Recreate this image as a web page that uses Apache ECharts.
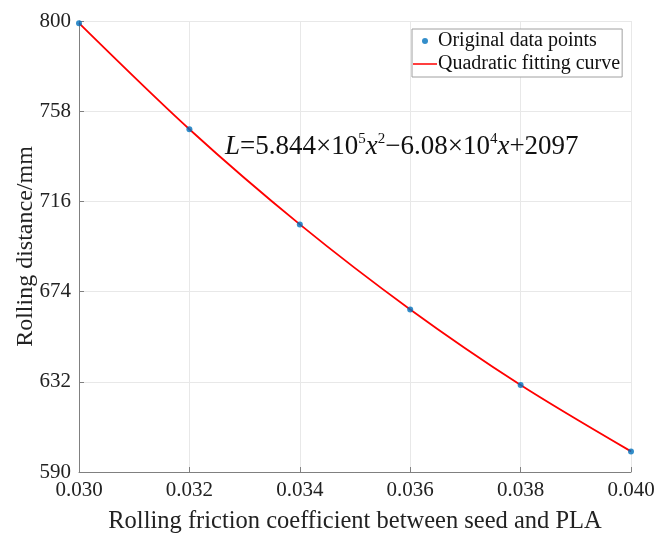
<!DOCTYPE html>
<html><head><meta charset="utf-8">
<script src="https://cdn.jsdelivr.net/npm/echarts@6/dist/echarts.min.js"></script>
<style>html,body{margin:0;padding:0;background:#fff}#c{width:656px;height:534px}</style>
</head><body><div id="c"></div>
<script>
const xValues = [0.030, 0.032, 0.034, 0.036, 0.038, 0.040];
const measured = [799.0, 749.6, 705.3, 665.7, 630.5, 599.6];
const fitted = [799.0, 749.6, 705.3, 665.7, 630.5, 599.6];
const yTicks = [590, 632, 674, 716, 758, 800];

const font = '"Liberation Serif", "Times New Roman", serif';
const lineIcon = 'path://M0,2.2H24V3.8H0Z M0,0h0.01v0.01h-0.01z M24,6h-0.01v-0.01h0.01z';
const chart = echarts.init(document.getElementById('c'));
chart.setOption({
  backgroundColor: '#fff',
  animation: false,
  textStyle: { fontFamily: font },
  grid: { left: 79, right: 25, top: 21, bottom: 62, containLabel: false, outerBoundsMode: 'none' },
  legend: {
    left: 412, top: 29, orient: 'vertical',
    backgroundColor: '#fff', borderColor: '#a0a0a0', borderWidth: 1, borderRadius: 0,
    padding: [2, 2, 3, 1], itemGap: 3, itemWidth: 24, itemHeight: 6,
    textStyle: { fontFamily: font, fontSize: 20, color: '#111', padding: [0, 0, 0, -4] },
    data: [{ name: 'Original data points', icon: 'circle' }, { name: 'Quadratic fitting curve', icon: lineIcon }]
  },
  xAxis: {
    type: 'value', min: 0.030, max: 0.040, interval: 0.002,
    name: 'Rolling friction coefficient between seed and PLA',
    nameLocation: 'middle', nameGap: 37, nameMoveOverlap: false,
    nameTextStyle: { fontFamily: font, fontSize: 24.5, color: '#222' },
    axisLine: { show: true, lineStyle: { color: '#808080', width: 1 } },
    axisTick: { show: true, inside: true, length: 5, lineStyle: { color: '#808080' } },
    axisLabel: { fontFamily: font, fontSize: 21, color: '#222', margin: 8, formatter: v => v.toFixed(3) },
    splitLine: { show: true, lineStyle: { color: '#e8e8e8', width: 1 } }
  },
  yAxis: {
    type: 'value', min: yTicks[0], max: yTicks[yTicks.length - 1], interval: 42,
    name: 'Rolling distance/mm',
    nameLocation: 'middle', nameGap: 41, nameMoveOverlap: false,
    nameTextStyle: { fontFamily: font, fontSize: 24, color: '#222' },
    axisLine: { show: true, lineStyle: { color: '#808080', width: 1 } },
    axisTick: { show: true, inside: true, length: 5, lineStyle: { color: '#808080' } },
    axisLabel: { fontFamily: font, fontSize: 21, color: '#222', margin: 8 },
    splitLine: { show: true, lineStyle: { color: '#e8e8e8', width: 1 } }
  },
  series: [
    {
      name: 'Quadratic fitting curve', type: 'line', z: 2,
      data: xValues.map((x, i) => [x, fitted[i]]),
      showSymbol: false, symbol: 'none', smooth: 0.3,
      lineStyle: { color: '#ff0000', width: 1.8 },
      itemStyle: { color: '#ff0000' }
    },
    {
      name: 'Original data points', type: 'scatter', z: 3,
      data: xValues.map((x, i) => [x, measured[i]]),
      symbol: 'circle', symbolSize: 6,
      itemStyle: { color: '#0072BD' }
    }
  ],
  graphic: [{
    type: 'text', left: 225, top: 130, z: 10,
    style: {
      text: '{i|L}{n|=5.844×10}{s|5}{i|x}{s|2}{n|−6.08×10}{s|4}{i|x}{n|+2097}',
      rich: {
        i: { fontFamily: font, fontSize: 27, fontStyle: 'italic', fill: '#111', verticalAlign: 'bottom', lineHeight: 30 },
        n: { fontFamily: font, fontSize: 27, fill: '#111', verticalAlign: 'bottom', lineHeight: 30 },
        s: { fontFamily: font, fontSize: 15, fill: '#111', verticalAlign: 'top', lineHeight: 30, padding: [2, 0, 12, 0] }
      }
    }
  }]
});
</script></body></html>
